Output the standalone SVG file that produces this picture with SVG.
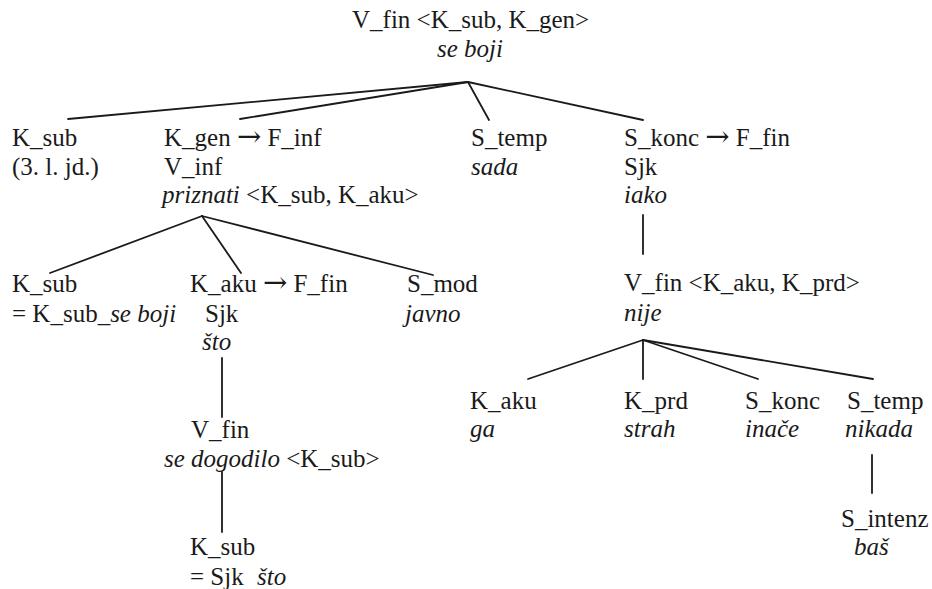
<svg xmlns="http://www.w3.org/2000/svg" width="932" height="589" viewBox="0 0 932 589">
<style>
text{font-family:'Liberation Serif','Times New Roman',Times,serif;font-size:25px;fill:#1a1a1a}
.i{font-style:italic}
.a{font-family:'DejaVu Serif',serif;font-size:29px}
.c line{stroke:#1a1a1a;stroke-width:1.8;stroke-linecap:round}
</style>
<rect width="932" height="589" fill="#fff"/>
<g class="c" id="connectors">
<line x1="468" y1="82" x2="68" y2="119"/>
<line x1="468" y1="82" x2="240" y2="119"/>
<line x1="468" y1="82" x2="489" y2="120"/>
<line x1="468" y1="82" x2="643" y2="120"/>
<line x1="202" y1="216" x2="50" y2="273"/>
<line x1="202" y1="216" x2="241" y2="273"/>
<line x1="202" y1="216" x2="433" y2="275"/>
<line x1="222" y1="358" x2="222" y2="417"/>
<line x1="222" y1="472" x2="222" y2="532"/>
<line x1="643" y1="215" x2="643" y2="254"/>
<line x1="643" y1="340" x2="528" y2="379"/>
<line x1="643" y1="340" x2="643" y2="379"/>
<line x1="643" y1="340" x2="758" y2="379"/>
<line x1="643" y1="340" x2="873" y2="379"/>
<line x1="872" y1="455" x2="872" y2="493"/>
</g>
<g id="root"><text x="352" y="28">V_fin &lt;K_sub, K_gen&gt;</text><text x="437" y="57" class="i">se boji</text></g>
<g id="ksub1"><text x="12" y="146">K_sub</text><text x="12" y="175">(3. l. jd.)</text></g>
<g id="kgen"><text x="164" y="146">K_gen <tspan class="a">→</tspan> F_inf</text><text x="164" y="175">V_inf</text><text x="162" y="203"><tspan class="i">priznati</tspan> &lt;K_sub, K_aku&gt;</text></g>
<g id="stemp1"><text x="471" y="146">S_temp</text><text x="471" y="175" class="i">sada</text></g>
<g id="skonc1"><text x="624" y="146">S_konc <tspan class="a">→</tspan> F_fin</text><text x="624" y="175">Sjk</text><text x="624" y="203" class="i">iako</text></g>
<g id="ksub2"><text x="12" y="292">K_sub</text><text x="12" y="322">= K_sub_<tspan class="i">se boji</tspan></text></g>
<g id="kaku1"><text x="190" y="292">K_aku <tspan class="a">→</tspan> F_fin</text><text x="205" y="322">Sjk</text><text x="202" y="350" class="i">što</text></g>
<g id="smod"><text x="407" y="292">S_mod</text><text x="405" y="322" class="i">javno</text></g>
<g id="vfin2"><text x="191" y="438">V_fin</text><text x="164" y="467"><tspan class="i">se dogodilo</tspan> &lt;K_sub&gt;</text></g>
<g id="ksub3"><text x="190" y="555">K_sub</text><text x="190" y="585">= Sjk<tspan x="257" class="i">što</tspan></text></g>
<g id="vfin3"><text x="624" y="291">V_fin &lt;K_aku, K_prd&gt;</text><text x="624" y="321" class="i">nije</text></g>
<g id="kaku2"><text x="470" y="409">K_aku</text><text x="470" y="437" class="i">ga</text></g>
<g id="kprd"><text x="624" y="409">K_prd</text><text x="624" y="437" class="i">strah</text></g>
<g id="skonc2"><text x="745" y="409">S_konc</text><text x="745" y="437" class="i">inače</text></g>
<g id="stemp2"><text x="847" y="409">S_temp</text><text x="845" y="437" class="i">nikada</text></g>
<g id="sintenz"><text x="841" y="527">S_intenz</text><text x="854" y="555" class="i">baš</text></g>
</svg>
